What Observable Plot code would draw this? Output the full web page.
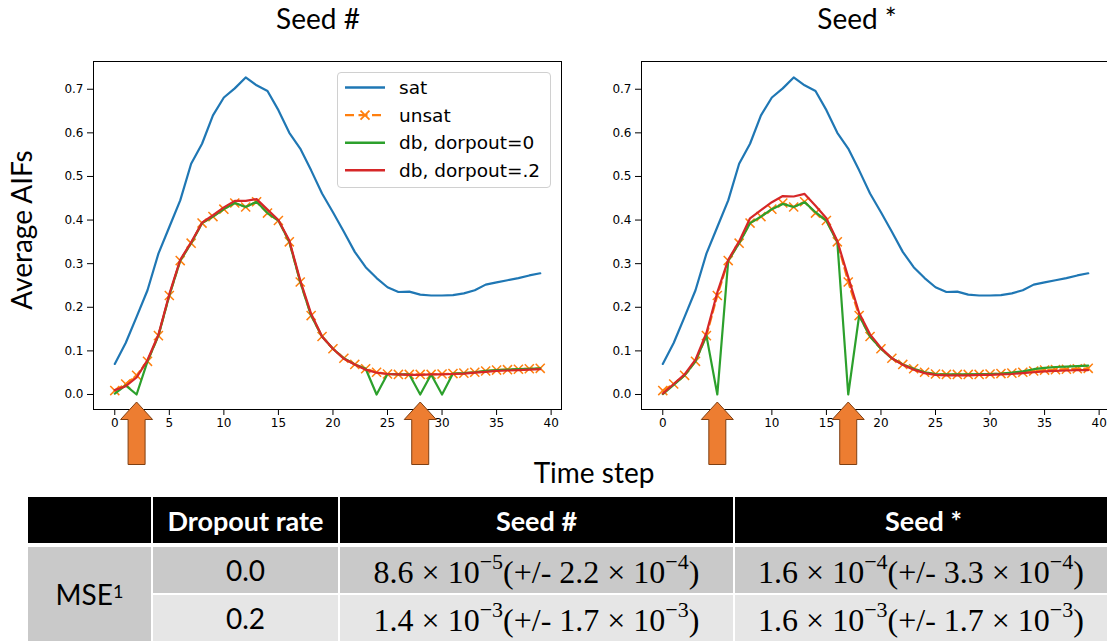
<!DOCTYPE html>
<html>
<head>
<meta charset="utf-8">
<script src="https://cdn.jsdelivr.net/npm/d3@7"></script>
<script src="https://cdn.jsdelivr.net/npm/@observablehq/plot@0.6"></script>
<style>
  html, body { margin: 0; padding: 0; background: #fff; }
  body { width: 1107px; height: 641px; overflow: hidden; position: relative; font-family: Lato, "Open Sans", sans-serif; }
  .abs { position: absolute; white-space: nowrap; }
  .lbl { font-family: Lato, sans-serif; font-size: 28px; color: #000; transform: translate(-50%, -50%); }
  .cell { position: absolute; display: flex; align-items: center; justify-content: center; white-space: nowrap; }
  .hdr { background: #000; color: #fff; font-family: Lato, sans-serif; font-weight: bold; font-size: 27px; }
  .r1 { background: #c9c9c9; }
  .r2 { background: #e6e6e6; }
  .txt { font-family: Lato, sans-serif; font-size: 28px; color: #000; }
  .math { font-family: "Liberation Serif", "DejaVu Serif", serif; font-size: 32px; color: #000; padding-top: 4px; box-sizing: border-box; }
  .math sup { font-size: 22px; vertical-align: 0; position: relative; top: -10px; }
</style>
</head>
<body>
<script>
// ---------------- data ----------------
const timeSteps = [0,1,2,3,4,5,6,7,8,9,10,11,12,13,14,15,16,17,18,19,20,21,22,23,24,25,26,27,28,29,30,31,32,33,34,35,36,37,38,39];

const satAIF = [0.070,0.118,0.178,0.239,0.323,0.384,0.445,0.529,0.575,0.640,
                0.681,0.702,0.727,0.709,0.696,0.652,0.600,0.564,0.514,0.461,
                0.418,0.373,0.327,0.292,0.267,0.246,0.235,0.236,0.229,0.227,
                0.227,0.228,0.232,0.239,0.252,0.257,0.262,0.267,0.273,0.278];

const unsatAIF = [0.009,0.024,0.044,0.076,0.135,0.227,0.307,0.347,0.393,0.408,
                  0.425,0.439,0.430,0.442,0.416,0.399,0.350,0.258,0.181,0.133,
                  0.105,0.083,0.069,0.059,0.051,0.047,0.046,0.046,0.046,0.046,
                  0.047,0.048,0.049,0.051,0.054,0.056,0.057,0.058,0.059,0.060];

const dbSeedHashDrop0 = [0.002,0.021,0.000,0.076,0.135,0.227,0.307,0.347,0.393,0.408,
                         0.425,0.439,0.430,0.442,0.416,0.399,0.350,0.258,0.181,0.133,
                         0.105,0.083,0.069,0.059,0.000,0.047,0.046,0.046,0.000,0.046,
                         0.000,0.048,0.049,0.051,0.054,0.056,0.057,0.058,0.059,0.060];

const dbSeedHashDrop02 = [0.010,0.019,0.039,0.079,0.137,0.230,0.309,0.349,0.394,0.411,
                          0.429,0.444,0.444,0.448,0.424,0.400,0.353,0.262,0.185,0.133,
                          0.105,0.082,0.069,0.057,0.050,0.047,0.046,0.045,0.045,0.046,
                          0.046,0.047,0.048,0.050,0.052,0.054,0.055,0.056,0.057,0.058];

const dbSeedStarDrop0 = [0.001,0.022,0.044,0.076,0.135,0.000,0.307,0.347,0.393,0.408,
                         0.425,0.437,0.430,0.441,0.418,0.398,0.350,0.000,0.181,0.133,
                         0.105,0.083,0.069,0.059,0.051,0.047,0.046,0.046,0.046,0.047,
                         0.047,0.048,0.050,0.053,0.058,0.061,0.063,0.064,0.065,0.066];

const dbSeedStarDrop02 = [0.002,0.024,0.046,0.080,0.141,0.234,0.309,0.351,0.404,0.423,
                          0.441,0.455,0.454,0.460,0.433,0.404,0.352,0.269,0.187,0.138,
                          0.107,0.083,0.068,0.057,0.049,0.045,0.044,0.044,0.044,0.045,
                          0.045,0.046,0.047,0.049,0.051,0.053,0.054,0.055,0.056,0.056];

const arrowStepsSeedHash = [2, 28];
const arrowStepsSeedStar = [5, 17];

const xTicks = [0,5,10,15,20,25,30,35,40];
const yTicks = [0.0,0.1,0.2,0.3,0.4,0.5,0.6,0.7];

const seriesNames = ["sat", "unsat", "db, dorpout=0", "db, dorpout=.2"];
const seriesColors = ["#1f77b4", "#ff7f0e", "#2ca02c", "#d62728"];

const panelTitles = ["Seed #", "Seed *"];
const yAxisLabel = "Average AIFs";
const xAxisLabel = "Time step";

const tableHeader = ["", "Dropout rate", "Seed #", "Seed *"];
const tableRowLabel = "MSE";
const dropoutRates = ["0.0", "0.2"];
const mseSeedHashMean = [8.6, 1.4], mseSeedHashMeanExp = [-5, -3];
const mseSeedHashSd = [2.2, 1.7], mseSeedHashSdExp = [-4, -3];
const mseSeedStarMean = [1.6, 1.6], mseSeedStarMeanExp = [-4, -3];
const mseSeedStarSd = [3.3, 1.7], mseSeedStarSdExp = [-4, -3];

// ---------------- chart ----------------
const blockArrow = {
  draw(ctx) {
    ctx.moveTo(0, -7.5);
    ctx.lineTo(16, 10);
    ctx.lineTo(8.5, 10);
    ctx.lineTo(8.5, 55);
    ctx.lineTo(-8.5, 55);
    ctx.lineTo(-8.5, 10);
    ctx.lineTo(-16, 10);
    ctx.closePath();
  }
};

function panel(db0, db02, arrowSteps) {
  const rows = timeSteps.map((t, i) => ({t, sat: satAIF[i], unsat: unsatAIF[i], db0: db0[i], db02: db02[i]}));
  return Plot.plot({
    width: 571, height: 470,
    marginLeft: 93, marginRight: 10, marginTop: 61, marginBottom: 61,
    x: {domain: [-1.95, 40.95]},
    y: {domain: [-0.0344, 0.7636]},
    style: {fontFamily: "DejaVu Sans", fontSize: "12px", color: "#000", background: "transparent", overflow: "visible"},
    marks: [
      Plot.axisX({ticks: xTicks, tickSize: 6, tickPadding: 3, label: null, tickFormat: d => String(d)}),
      Plot.axisY({ticks: yTicks, tickSize: 6, tickPadding: 4, label: null, tickFormat: d3.format(".1f")}),
      Plot.line(rows, {x: "t", y: "sat", stroke: seriesColors[0], strokeWidth: 2.2}),
      Plot.line(rows, {x: "t", y: "unsat", stroke: seriesColors[1], strokeWidth: 2.2, strokeDasharray: "8,4"}),
      Plot.dot(rows, {x: "t", y: "unsat", symbol: "times", r: 4.2, stroke: seriesColors[1], strokeWidth: 1.5}),
      Plot.line(rows, {x: "t", y: "db0", stroke: seriesColors[2], strokeWidth: 2.2}),
      Plot.line(rows, {x: "t", y: "db02", stroke: seriesColors[3], strokeWidth: 2.2}),
      Plot.frame({stroke: "#000", strokeWidth: 1}),
      Plot.dot(arrowSteps, {x: d => d, frameAnchor: "bottom", symbol: blockArrow, fill: "#ed7d31", stroke: "#7f3f12", strokeWidth: 1})
    ]
  });
}

const p1 = panel(dbSeedHashDrop0, dbSeedHashDrop02, arrowStepsSeedHash);
p1.style.position = "absolute"; p1.style.left = "0px"; p1.style.top = "0px";
document.body.appendChild(p1);
const p2 = panel(dbSeedStarDrop0, dbSeedStarDrop02, arrowStepsSeedStar);
p2.style.position = "absolute"; p2.style.left = "548px"; p2.style.top = "0px";
document.body.appendChild(p2);

// ---------------- legend (left panel) ----------------
const leg = d3.select("body").append("div").attr("class", "abs")
  .style("left", "337px").style("top", "72px").style("width", "212px").style("height", "114px")
  .style("border", "1px solid #d0d0d0").style("border-radius", "4px").style("background", "rgba(255,255,255,0.85)");
const legSvg = leg.append("svg").attr("width", 212).attr("height", 114).style("position", "absolute").style("left", "0").style("top", "0");
seriesNames.forEach((name, i) => {
  const cy = 14.5 + i * 27.6;
  const g = legSvg.append("g");
  g.append("line").attr("x1", 7).attr("x2", 47).attr("y1", cy).attr("y2", cy)
    .attr("stroke", seriesColors[i]).attr("stroke-width", 2.4)
    .attr("stroke-dasharray", i === 1 ? "9,4.5" : null);
  if (i === 1) {
    g.append("path").attr("d", `M${27-4.5},${cy-4.5}L${27+4.5},${cy+4.5}M${27-4.5},${cy+4.5}L${27+4.5},${cy-4.5}`)
      .attr("stroke", seriesColors[i]).attr("stroke-width", 1.8);
  }
  g.append("text").attr("x", 61).attr("y", cy).attr("dy", "0.35em")
    .attr("font-family", "DejaVu Sans").attr("font-size", 18.5).attr("fill", "#000").text(name);
});

// ---------------- titles / axis labels ----------------
function label(text, x, y, rotate) {
  d3.select("body").append("div").attr("class", "abs lbl")
    .style("left", x + "px").style("top", y + "px")
    .style("transform", `translate(-50%, -50%)${rotate ? " rotate(-90deg)" : ""}`)
    .text(text);
}
label(panelTitles[0], 318, 18);
label(panelTitles[1], 857, 18);
label(yAxisLabel, 21, 230, true);
label(xAxisLabel, 594, 472);

// ---------------- table ----------------
const colEdges = [[28, 151], [153, 338], [340, 733], [735, 1112]];
function cell(x0, x1, y0, y1, cls, html) {
  d3.select("body").append("div").attr("class", "cell " + cls)
    .style("left", x0 + "px").style("top", y0 + "px")
    .style("width", (x1 - x0) + "px").style("height", (y1 - y0) + "px")
    .html(html);
}
tableHeader.forEach((h, j) => cell(colEdges[j][0], colEdges[j][1], 497, 543, "hdr", h));
cell(colEdges[0][0], colEdges[0][1], 547, 641, "r1 txt", `${tableRowLabel}<sup style="font-size:18px;position:relative;top:-3px">1</sup>`);
const rowY = [[547, 593], [595, 641]];
const sci = (m, e) => `${m.toFixed(1)} × 10<sup>−${Math.abs(e)}</sup>`;
dropoutRates.forEach((r, i) => {
  const cls = i === 0 ? "r1" : "r2";
  cell(colEdges[1][0], colEdges[1][1], rowY[i][0], rowY[i][1], cls + " txt", r);
  cell(colEdges[2][0], colEdges[2][1], rowY[i][0], rowY[i][1], cls + " math",
    `${sci(mseSeedHashMean[i], mseSeedHashMeanExp[i])}(+/- ${sci(mseSeedHashSd[i], mseSeedHashSdExp[i])})`);
  cell(colEdges[3][0], colEdges[3][1] - 5, rowY[i][0], rowY[i][1], cls + " math",
    `${sci(mseSeedStarMean[i], mseSeedStarMeanExp[i])}(+/- ${sci(mseSeedStarSd[i], mseSeedStarSdExp[i])})`);
});
</script>
</body>
</html>
